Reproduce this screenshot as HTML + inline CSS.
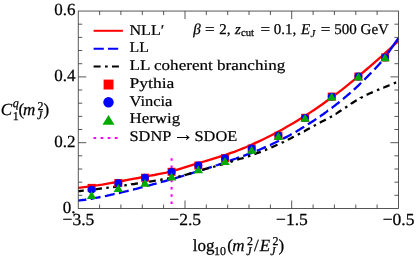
<!DOCTYPE html>
<html><head><meta charset="utf-8"><title>plot</title>
<style>
html,body{margin:0;padding:0;background:#fff;}
body{width:416px;height:259px;position:relative;overflow:hidden;font-family:"Liberation Serif",serif;}
svg text{font-family:"Liberation Serif",serif;text-rendering:geometricPrecision;}
</style></head><body>
<svg width="416" height="259" viewBox="0 0 416 259" style="position:absolute;left:0;top:0;will-change:transform">
<path d="M78.2,187.8 L82.3,187.3 L86.3,186.8 L90.3,186.3 L94.3,185.7 L98.3,185.2 L102.3,184.6 L106.3,183.9 L110.3,183.2 L114.3,182.5 L118.3,181.8 L122.3,181.0 L126.3,180.2 L130.3,179.4 L134.3,178.7 L138.3,178.0 L142.3,177.2 L146.3,176.5 L150.3,175.7 L154.3,175.0 L158.3,174.2 L162.3,173.4 L166.3,172.6 L170.3,171.7 L174.3,170.6 L178.3,169.4 L182.3,168.2 L186.3,166.9 L190.3,165.6 L194.3,164.4 L198.3,163.2 L202.3,162.0 L206.3,160.8 L210.3,159.7 L214.3,158.4 L218.3,157.2 L222.3,155.9 L226.3,154.6 L230.3,153.2 L234.3,151.8 L238.3,150.2 L242.4,148.6 L246.4,147.0 L250.4,145.2 L254.4,143.4 L258.4,141.6 L262.4,139.7 L266.4,137.8 L270.4,135.8 L274.4,133.7 L278.4,131.6 L282.4,129.4 L286.4,127.1 L290.4,124.8 L294.4,122.5 L298.4,120.0 L302.4,117.6 L306.4,115.0 L310.4,112.4 L314.4,109.7 L318.4,107.0 L322.4,104.2 L326.4,101.3 L330.4,98.4 L334.4,95.4 L338.4,92.4 L342.4,89.3 L346.4,86.1 L350.4,82.9 L354.4,79.6 L358.4,76.3 L362.4,72.9 L366.4,69.5 L370.4,66.1 L374.4,62.6 L378.4,59.1 L382.4,55.5 L386.4,51.9 L390.4,48.3 L394.4,44.7 L398.4,41.0" fill="none" stroke="#ff0000" stroke-width="2.3"/>
<path d="M78.2,200.6 L78.2,200.6 L79.9,200.4 L81.5,200.2 L83.1,200.0 L84.7,199.8 L86.3,199.5 L86.3,199.5 M90.7,198.8 L90.9,198.8 L92.5,198.5 L94.1,198.2 L95.7,197.9 L97.3,197.6 L98.9,197.3 L100.5,197.0 L100.5,197.0 M104.9,196.1 L104.9,196.1 L106.5,195.8 L108.1,195.4 L109.7,195.1 L111.3,194.7 L112.9,194.4 L114.5,194.0 L114.6,194.0 M118.9,193.0 L119.1,193.0 L120.7,192.6 L122.3,192.2 L123.9,191.8 L125.5,191.5 L127.1,191.1 L128.7,190.7 M132.9,189.6 L133.1,189.6 L134.7,189.2 L136.3,188.8 L137.9,188.4 L139.5,187.9 L141.1,187.5 L142.6,187.1 M146.9,186.0 L147.1,185.9 L148.7,185.5 L150.3,185.1 L151.9,184.7 L153.5,184.2 L155.1,183.8 L156.6,183.4 M160.8,182.2 L160.9,182.2 L162.5,181.7 L164.1,181.3 L165.7,180.9 L167.3,180.4 L168.9,179.9 L170.4,179.5 M174.7,178.3 L174.7,178.3 L176.3,177.8 L177.9,177.4 L179.5,176.9 L181.1,176.4 L182.7,176.0 L184.3,175.5 M188.5,174.2 L188.7,174.2 L190.3,173.7 L191.9,173.2 L193.5,172.7 L195.1,172.2 L196.7,171.7 L198.1,171.3 M202.3,170.0 L202.3,170.0 L203.9,169.5 L205.5,169.0 L207.1,168.5 L208.7,167.9 L210.3,167.4 L211.8,166.9 M216.0,165.6 L216.1,165.5 L217.7,165.0 L219.3,164.4 L220.9,163.9 L222.5,163.3 L224.1,162.8 L225.5,162.3 M229.7,160.8 L229.7,160.8 L231.3,160.2 L232.9,159.6 L234.5,159.0 L236.1,158.5 L237.7,157.9 L239.1,157.4 M243.2,155.9 L243.4,155.9 L245.0,155.3 L246.6,154.7 L248.2,154.2 L249.8,153.6 L251.4,153.0 L252.6,152.5 M256.7,150.8 L256.8,150.8 L258.4,150.2 L260.0,149.5 L261.6,148.8 L263.2,148.1 L264.8,147.4 L265.9,146.9 M269.9,145.0 L270.0,145.0 L271.6,144.3 L273.2,143.5 L274.8,142.8 L276.4,142.0 L278.0,141.2 L278.9,140.7 M282.9,138.8 L283.0,138.7 L284.6,137.9 L286.2,137.1 L287.8,136.3 L289.4,135.4 L291.0,134.5 L291.7,134.1 M295.6,131.9 L295.6,131.9 L297.2,131.0 L298.8,130.0 L300.4,129.1 L302.0,128.1 L303.6,127.1 L304.1,126.7 M307.9,124.4 L308.0,124.3 L309.6,123.3 L311.2,122.3 L312.8,121.2 L314.4,120.2 L316.0,119.1 L316.3,118.9 M319.9,116.4 L320.0,116.4 L321.6,115.3 L323.2,114.2 L324.8,113.0 L326.4,111.9 L328.0,110.7 L328.1,110.7 M331.6,108.0 L331.8,107.9 L333.4,106.7 L335.0,105.5 L336.6,104.2 L338.2,103.0 L339.5,101.9 M343.0,99.1 L343.0,99.1 L344.6,97.7 L346.2,96.4 L347.8,95.0 L349.4,93.7 L350.6,92.6 M353.9,89.7 L354.0,89.6 L355.6,88.1 L357.2,86.6 L358.8,85.1 L360.4,83.5 L361.1,82.8 M364.3,79.7 L364.4,79.6 L366.0,78.0 L367.6,76.4 L369.2,74.7 L370.8,73.1 L371.3,72.6 M374.4,69.4 L374.4,69.4 L376.0,67.7 L377.6,66.0 L379.2,64.3 L380.8,62.4 L381.1,62.1 M384.0,58.7 L384.0,58.5 L385.6,56.5 L387.2,54.3 L388.8,52.0 L389.8,50.6 M392.3,46.9 L392.4,46.8 L394.0,44.4 L395.6,42.1 L397.2,39.9 L398.1,38.7 M389.0,51.7 L390.6,49.4 L392.2,47.0 L393.8,44.7 L395.4,42.4 L397.0,40.1 L398.4,38.2" fill="none" stroke="#0000ff" stroke-width="2.3"/>
<path d="M78.2,191.1 L78.2,191.1 L79.9,191.0 L81.5,190.8 L83.1,190.6 L83.8,190.6 M88.3,190.1 L88.5,190.1 L90.1,189.9 L90.8,189.8 M95.1,189.3 L95.3,189.3 L96.9,189.1 L98.5,188.9 L100.1,188.7 L101.7,188.5 L101.9,188.5 M106.3,187.9 L106.5,187.9 L108.1,187.7 L108.8,187.6 M113.1,187.0 L113.3,187.0 L114.9,186.8 L116.5,186.5 L118.1,186.3 L119.7,186.1 L119.9,186.1 M124.3,185.4 L124.5,185.4 L126.1,185.2 L126.8,185.1 M131.1,184.5 L131.3,184.4 L132.9,184.2 L134.5,184.0 L136.1,183.7 L137.7,183.5 L137.9,183.5 M142.3,182.8 L142.5,182.8 L144.1,182.5 L144.8,182.4 M149.1,181.7 L149.3,181.7 L150.9,181.4 L152.5,181.2 L154.1,180.9 L155.7,180.6 L155.8,180.6 M160.2,179.8 L160.3,179.8 L161.9,179.5 L162.7,179.4 M167.0,178.6 L167.1,178.6 L168.7,178.3 L170.3,178.0 L171.9,177.7 L173.5,177.5 L173.7,177.4 M178.1,176.6 L178.3,176.6 L179.9,176.3 L180.6,176.2 M184.8,175.2 L184.9,175.1 L186.5,174.7 L188.1,174.2 L189.7,173.7 L191.3,173.2 L191.3,173.2 M195.6,171.8 L195.7,171.8 L197.3,171.2 L198.0,171.0 M202.2,169.8 L202.3,169.8 L203.9,169.3 L205.5,168.9 L207.1,168.5 L208.7,168.1 L208.8,168.1 M213.1,166.9 L213.1,166.9 L214.7,166.5 L215.5,166.2 M219.7,165.0 L219.7,165.0 L221.3,164.6 L222.9,164.1 L224.5,163.6 L226.1,163.1 L226.2,163.1 M230.5,161.8 L230.5,161.8 L232.1,161.3 L232.9,161.0 M237.1,159.7 L237.1,159.7 L238.8,159.2 L240.4,158.7 L242.0,158.3 L243.6,157.8 L243.6,157.8 M247.9,156.4 L248.0,156.4 L249.6,155.9 L250.3,155.6 M254.4,154.2 L254.6,154.1 L256.2,153.5 L257.8,152.9 L259.4,152.3 L260.8,151.8 M264.9,150.1 L265.0,150.1 L266.6,149.4 L267.2,149.1 M271.3,147.5 L271.4,147.4 L273.0,146.7 L274.6,146.0 L276.2,145.3 L277.5,144.7 M281.6,142.8 L281.8,142.7 L283.4,142.0 L283.8,141.7 M287.8,139.8 L287.8,139.8 L289.4,139.0 L291.0,138.2 L292.6,137.3 L293.8,136.7 M297.8,134.7 L298.0,134.6 L299.6,133.7 L300.0,133.5 M303.9,131.4 L304.0,131.4 L305.6,130.5 L307.2,129.6 L308.8,128.7 L309.8,128.1 M313.8,125.9 L313.8,125.9 L315.4,125.0 L315.9,124.7 M319.8,122.7 L319.8,122.7 L321.4,121.8 L323.0,121.0 L324.6,120.2 L325.8,119.5 M329.8,117.4 L330.0,117.3 L331.6,116.4 L332.0,116.2 M335.7,113.9 L335.8,113.9 L337.4,112.9 L339.0,111.8 L340.6,110.8 L341.4,110.2 M345.2,107.7 L345.2,107.7 L346.8,106.7 L347.3,106.4 M350.9,104.0 L351.0,103.9 L352.6,102.8 L354.2,101.8 L355.8,100.8 L356.7,100.3 M360.6,98.1 L360.6,98.0 L362.2,97.2 L362.8,96.9 M366.6,94.9 L366.8,94.8 L368.4,94.0 L370.0,93.3 L371.6,92.6 L372.8,92.0 M377.0,90.3 L377.0,90.3 L378.6,89.6 L379.3,89.3 M383.3,87.7 L383.4,87.7 L385.0,87.0 L386.6,86.4 L388.2,85.7 L389.6,85.2 M393.8,83.4 L393.8,83.4 L395.4,82.7 L396.1,82.4" fill="none" stroke="#000" stroke-width="2.3"/>
<line x1="171.6" y1="158.3" x2="171.6" y2="208.5" stroke="#ff00ff" stroke-width="2.1" stroke-dasharray="2.4 4.8"/>
<rect x="87.6" y="183.9" width="8" height="8" fill="#ff0000"/>
<rect x="114.3" y="179.0" width="8" height="8" fill="#ff0000"/>
<rect x="141.0" y="173.7" width="8" height="8" fill="#ff0000"/>
<rect x="167.6" y="167.8" width="8" height="8" fill="#ff0000"/>
<rect x="194.3" y="161.5" width="8" height="8" fill="#ff0000"/>
<rect x="221.0" y="154.1" width="8" height="8" fill="#ff0000"/>
<rect x="247.7" y="144.5" width="8" height="8" fill="#ff0000"/>
<rect x="274.4" y="131.7" width="8" height="8" fill="#ff0000"/>
<rect x="301.1" y="113.8" width="8" height="8" fill="#ff0000"/>
<rect x="327.7" y="92.6" width="8" height="8" fill="#ff0000"/>
<rect x="354.4" y="72.5" width="8" height="8" fill="#ff0000"/>
<rect x="381.1" y="53.4" width="8" height="8" fill="#ff0000"/>
<circle cx="91.6" cy="189.6" r="3.9" fill="#0000ff"/>
<circle cx="118.3" cy="183.2" r="3.9" fill="#0000ff"/>
<circle cx="145.0" cy="177.7" r="3.9" fill="#0000ff"/>
<circle cx="171.6" cy="171.8" r="3.9" fill="#0000ff"/>
<circle cx="198.3" cy="165.5" r="3.9" fill="#0000ff"/>
<circle cx="225.0" cy="158.1" r="3.9" fill="#0000ff"/>
<circle cx="251.7" cy="148.5" r="3.9" fill="#0000ff"/>
<circle cx="278.4" cy="135.7" r="3.9" fill="#0000ff"/>
<circle cx="305.1" cy="117.8" r="3.9" fill="#0000ff"/>
<circle cx="331.7" cy="96.6" r="3.9" fill="#0000ff"/>
<circle cx="358.4" cy="76.5" r="3.9" fill="#0000ff"/>
<circle cx="385.1" cy="57.4" r="3.9" fill="#0000ff"/>
<path d="M91.6,191.1 L96.3,199.0 L86.9,199.0Z" fill="#00aa00"/>
<path d="M118.3,184.1 L123.0,192.0 L113.6,192.0Z" fill="#00aa00"/>
<path d="M145.0,178.9 L149.7,186.8 L140.3,186.8Z" fill="#00aa00"/>
<path d="M171.6,172.5 L176.3,180.4 L166.9,180.4Z" fill="#00aa00"/>
<path d="M198.3,165.4 L203.0,173.3 L193.6,173.3Z" fill="#00aa00"/>
<path d="M225.0,157.0 L229.7,164.9 L220.3,164.9Z" fill="#00aa00"/>
<path d="M251.7,145.8 L256.4,153.7 L247.0,153.7Z" fill="#00aa00"/>
<path d="M278.4,132.1 L283.1,140.0 L273.7,140.0Z" fill="#00aa00"/>
<path d="M305.1,113.9 L309.8,121.8 L300.4,121.8Z" fill="#00aa00"/>
<path d="M331.7,92.6 L336.4,100.5 L327.0,100.5Z" fill="#00aa00"/>
<path d="M358.4,72.5 L363.1,80.4 L353.7,80.4Z" fill="#00aa00"/>
<path d="M385.1,53.4 L389.8,61.3 L380.4,61.3Z" fill="#00aa00"/>
<rect x="78.25" y="11.05" width="320.2" height="197.4" fill="none" stroke="#3a3a3a" stroke-width="0.85"/>
<path d="M99.6,208.5 v-4.0 M99.6,11.05 v4.0 M78.25,195.3 h4.0 M398.45,195.3 h-4.0 M120.9,208.5 v-4.0 M120.9,11.05 v4.0 M78.25,182.2 h4.0 M398.45,182.2 h-4.0 M142.3,208.5 v-4.0 M142.3,11.05 v4.0 M78.25,169.0 h4.0 M398.45,169.0 h-4.0 M163.6,208.5 v-4.0 M163.6,11.05 v4.0 M78.25,155.8 h4.0 M398.45,155.8 h-4.0 M185.0,208.5 v-8.0 M185.0,11.05 v8.0 M78.25,142.7 h8.0 M398.45,142.7 h-8.0 M206.3,208.5 v-4.0 M206.3,11.05 v4.0 M78.25,129.5 h4.0 M398.45,129.5 h-4.0 M227.7,208.5 v-4.0 M227.7,11.05 v4.0 M78.25,116.4 h4.0 M398.45,116.4 h-4.0 M249.0,208.5 v-4.0 M249.0,11.05 v4.0 M78.25,103.2 h4.0 M398.45,103.2 h-4.0 M270.4,208.5 v-4.0 M270.4,11.05 v4.0 M78.25,90.0 h4.0 M398.45,90.0 h-4.0 M291.7,208.5 v-8.0 M291.7,11.05 v8.0 M78.25,76.9 h8.0 M398.45,76.9 h-8.0 M313.1,208.5 v-4.0 M313.1,11.05 v4.0 M78.25,63.7 h4.0 M398.45,63.7 h-4.0 M334.4,208.5 v-4.0 M334.4,11.05 v4.0 M78.25,50.5 h4.0 M398.45,50.5 h-4.0 M355.8,208.5 v-4.0 M355.8,11.05 v4.0 M78.25,37.4 h4.0 M398.45,37.4 h-4.0 M377.1,208.5 v-4.0 M377.1,11.05 v4.0 M78.25,24.2 h4.0 M398.45,24.2 h-4.0" fill="none" stroke="#3a3a3a" stroke-width="0.85"/>
<line x1="93.6" y1="30.8" x2="122.9" y2="30.8" stroke="#ff0000" stroke-width="2"/>
<line x1="93.6" y1="48.8" x2="118.2" y2="48.8" stroke="#0000ff" stroke-width="2" stroke-dasharray="10.2 4.2"/>
<line x1="93.6" y1="66.4" x2="118.9" y2="66.4" stroke="#000" stroke-width="2" stroke-dasharray="7 4.4 2.7 4.3"/>
<rect x="103.6" y="79.6" width="9.9" height="9.9" fill="#ff0000"/>
<circle cx="108.5" cy="102.2" r="5.2" fill="#0000ff"/>
<path d="M108.5,114.9 L114.5,124.8 L102.5,124.8Z" fill="#00aa00"/>
<line x1="93.5" y1="137.95" x2="118" y2="137.95" stroke="#ff00ff" stroke-width="2.1" stroke-dasharray="2.7 4.4"/>
<g fill="#000"><text x="75.5" y="15.3" font-size="17" text-anchor="end" stroke="#000" stroke-width="0.25">0.6</text>
<text x="75.5" y="81.1" font-size="17" text-anchor="end" stroke="#000" stroke-width="0.25">0.4</text>
<text x="75.5" y="146.9" font-size="17" text-anchor="end" stroke="#000" stroke-width="0.25">0.2</text>
<text x="75.5" y="212.7" font-size="17" text-anchor="end" stroke="#000" stroke-width="0.25">0.</text>
<text x="78.5" y="225.2" font-size="17" text-anchor="middle" textLength="31.8" lengthAdjust="spacingAndGlyphs" stroke="#000" stroke-width="0.25">−3.5</text>
<text x="185.2" y="225.2" font-size="17" text-anchor="middle" textLength="31.8" lengthAdjust="spacingAndGlyphs" stroke="#000" stroke-width="0.25">−2.5</text>
<text x="291.9" y="225.2" font-size="17" text-anchor="middle" textLength="31.8" lengthAdjust="spacingAndGlyphs" stroke="#000" stroke-width="0.25">−1.5</text>
<text x="398.6" y="225.2" font-size="17" text-anchor="middle" textLength="31.8" lengthAdjust="spacingAndGlyphs" stroke="#000" stroke-width="0.25">−0.5</text>
<text x="129.5" y="34.5" font-size="14.8" textLength="34.8" lengthAdjust="spacingAndGlyphs" stroke="#000" stroke-width="0.2">NLL′</text>
<text x="129.5" y="52.3" font-size="14.8" textLength="19.3" lengthAdjust="spacingAndGlyphs" stroke="#000" stroke-width="0.2">LL</text>
<text x="129.5" y="69.9" font-size="14.8" textLength="155.8" lengthAdjust="spacingAndGlyphs" stroke="#000" stroke-width="0.2">LL coherent branching</text>
<text x="129.5" y="87.7" font-size="14.8" textLength="44.8" lengthAdjust="spacingAndGlyphs" stroke="#000" stroke-width="0.2">Pythia</text>
<text x="129.5" y="105.5" font-size="14.8" textLength="42.9" lengthAdjust="spacingAndGlyphs" stroke="#000" stroke-width="0.2">Vincia</text>
<text x="129.5" y="123.3" font-size="14.8" textLength="50.6" lengthAdjust="spacingAndGlyphs" stroke="#000" stroke-width="0.2">Herwig</text>
<text x="129.5" y="140.9" font-size="14.8" textLength="41.8" lengthAdjust="spacingAndGlyphs" stroke="#000" stroke-width="0.2">SDNP</text>
<text x="172.8" y="141.0" font-size="21">→</text>
<text x="194.5" y="140.9" font-size="14.8" textLength="42.8" lengthAdjust="spacingAndGlyphs" stroke="#000" stroke-width="0.2">SDOE</text>
<text x="193.2" y="33.8" font-size="15" font-style="italic" stroke="#000" stroke-width="0.25">β</text>
<text x="205.0" y="33.8" font-size="15" textLength="9.6" lengthAdjust="spacingAndGlyphs" stroke="#000" stroke-width="0.25">=</text>
<text x="219.2" y="33.8" font-size="15" stroke="#000" stroke-width="0.25">2,</text>
<text x="235.0" y="33.8" font-size="15" font-style="italic" stroke="#000" stroke-width="0.25">z</text>
<text x="241.0" y="36.3" font-size="10.7" stroke="#000" stroke-width="0.25">cut</text>
<text x="260.5" y="33.8" font-size="15" textLength="9.6" lengthAdjust="spacingAndGlyphs" stroke="#000" stroke-width="0.25">=</text>
<text x="273.8" y="33.8" font-size="15" stroke="#000" stroke-width="0.25">0.1,</text>
<text x="301.0" y="33.8" font-size="15" font-style="italic" stroke="#000" stroke-width="0.25">E</text>
<text x="310.4" y="36.5" font-size="10.7" font-style="italic" stroke="#000" stroke-width="0.25">J</text>
<text x="320.8" y="33.8" font-size="15" textLength="9.6" lengthAdjust="spacingAndGlyphs" stroke="#000" stroke-width="0.25">=</text>
<text x="334.3" y="33.8" font-size="15" stroke="#000" stroke-width="0.25">500</text>
<text x="360.6" y="33.8" font-size="15" stroke="#000" stroke-width="0.25">GeV</text>
<text x="0.8" y="114.8" font-size="17" font-style="italic" stroke="#000" stroke-width="0.25">C</text>
<text x="12.8" y="107.0" font-size="12" font-style="italic" stroke="#000" stroke-width="0.25">q</text>
<text x="12.8" y="119.8" font-size="12" stroke="#000" stroke-width="0.25">1</text>
<text x="18.5" y="114.8" font-size="17" stroke="#000" stroke-width="0.25">(</text>
<text x="23.0" y="114.8" font-size="17" font-style="italic" stroke="#000" stroke-width="0.25">m</text>
<text x="37.6" y="109.8" font-size="12" stroke="#000" stroke-width="0.25">2</text>
<text x="37.0" y="118.6" font-size="12" font-style="italic" stroke="#000" stroke-width="0.25">J</text>
<text x="43.6" y="114.8" font-size="17" stroke="#000" stroke-width="0.25">)</text>
<text x="192.8" y="250.6" font-size="17" stroke="#000" stroke-width="0.25">log</text>
<text x="214.0" y="255.0" font-size="12" stroke="#000" stroke-width="0.25">10</text>
<text x="227.2" y="250.6" font-size="17" stroke="#000" stroke-width="0.25">(</text>
<text x="232.3" y="250.6" font-size="17" font-style="italic" stroke="#000" stroke-width="0.25">m</text>
<text x="246.9" y="244.8" font-size="12" stroke="#000" stroke-width="0.25">2</text>
<text x="246.3" y="254.8" font-size="12" font-style="italic" stroke="#000" stroke-width="0.25">J</text>
<text x="254.0" y="250.6" font-size="17" stroke="#000" stroke-width="0.25">/</text>
<text x="259.8" y="250.6" font-size="17" font-style="italic" stroke="#000" stroke-width="0.25">E</text>
<text x="272.6" y="244.8" font-size="12" stroke="#000" stroke-width="0.25">2</text>
<text x="270.2" y="254.8" font-size="12" font-style="italic" stroke="#000" stroke-width="0.25">J</text>
<text x="278.6" y="250.6" font-size="17" stroke="#000" stroke-width="0.25">)</text></g></svg>
</body></html>
